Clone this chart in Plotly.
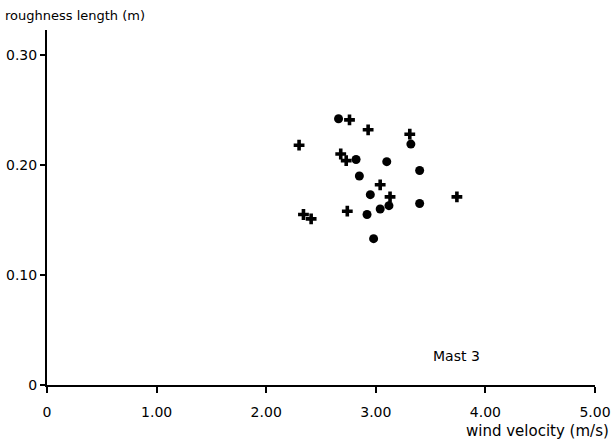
import plotly.graph_objects as go

# Mast 3 data: wind velocity (m/s) vs roughness length (m)
dot_velocity = [2.66, 3.32, 2.82, 3.10, 3.40, 2.85, 2.95, 3.40, 3.12, 3.04, 2.92, 2.98]
dot_roughness = [0.242, 0.219, 0.205, 0.203, 0.195, 0.190, 0.173, 0.165, 0.163, 0.160, 0.155, 0.133]

cross_velocity = [2.76, 2.93, 3.31, 2.30, 2.68, 2.73, 3.04, 3.13, 3.74, 2.34, 2.41, 2.74]
cross_roughness = [0.241, 0.232, 0.228, 0.218, 0.210, 0.204, 0.182, 0.171, 0.171, 0.155, 0.151, 0.158]

x_tickvals = [0, 1, 2, 3, 4, 5]
x_ticktext = ["0", "1.00", "2.00", "3.00", "4.00", "5.00"]
y_tickvals = [0, 0.10, 0.20, 0.30]
y_ticktext = ["0", "0.10", "0.20", "0.30"]

FONT = "DejaVu Sans, Liberation Sans, Arial, sans-serif"

fig = go.Figure()
fig.add_trace(go.Scatter(
    x=dot_velocity, y=dot_roughness, mode="markers",
    marker=dict(symbol="circle", size=9, color="black", line=dict(width=0)),
    showlegend=False, hoverinfo="x+y"))
fig.add_trace(go.Scatter(
    x=cross_velocity, y=cross_roughness, mode="markers",
    marker=dict(symbol="cross", size=9, color="black", line=dict(width=0)),
    showlegend=False, hoverinfo="x+y"))

fig.update_layout(
    width=615, height=440,
    margin=dict(l=47, r=20, t=30, b=55),
    paper_bgcolor="white", plot_bgcolor="white",
    font=dict(family=FONT, size=13, color="black"),
    xaxis=dict(range=[0, 5.0], tickvals=x_tickvals, ticktext=x_ticktext,
               automargin=False,
               showgrid=False, zeroline=False, showline=True, linecolor="black",
               linewidth=2, ticks="outside", ticklen=6, tickwidth=1.5,
               tickcolor="black", ticklabelstandoff=7,
               tickfont=dict(family=FONT, size=14, color="black")),
    yaxis=dict(range=[0, 0.3227], tickvals=y_tickvals, ticktext=y_ticktext,
               automargin=False,
               showgrid=False, zeroline=False, showline=True, linecolor="black",
               linewidth=2, ticks="outside", ticklen=5, tickwidth=1.5,
               tickcolor="black",
               tickfont=dict(family=FONT, size=14, color="black")),
    annotations=[
        dict(text="roughness length (m)", xref="paper", yref="paper",
             x=-44/548, y=1 + 15/355, xanchor="left", yanchor="middle",
             showarrow=False, font=dict(family=FONT, size=13, color="black")),
        dict(text="wind velocity (m/s)", xref="paper", yref="paper",
             x=1 + 16/548, y=-46/355, xanchor="right", yanchor="middle",
             showarrow=False, font=dict(family=FONT, size=15, color="black")),
        dict(text="Mast 3", xref="paper", yref="paper",
             x=(456 - 47) / 548, y=(385 - 356) / 355, xanchor="center", yanchor="middle",
             showarrow=False, font=dict(family=FONT, size=14, color="black")),
    ],
)

fig.write_html("out.html", config={"displayModeBar": False},
               post_script="document.body.style.margin='0';document.body.style.padding='0';")
